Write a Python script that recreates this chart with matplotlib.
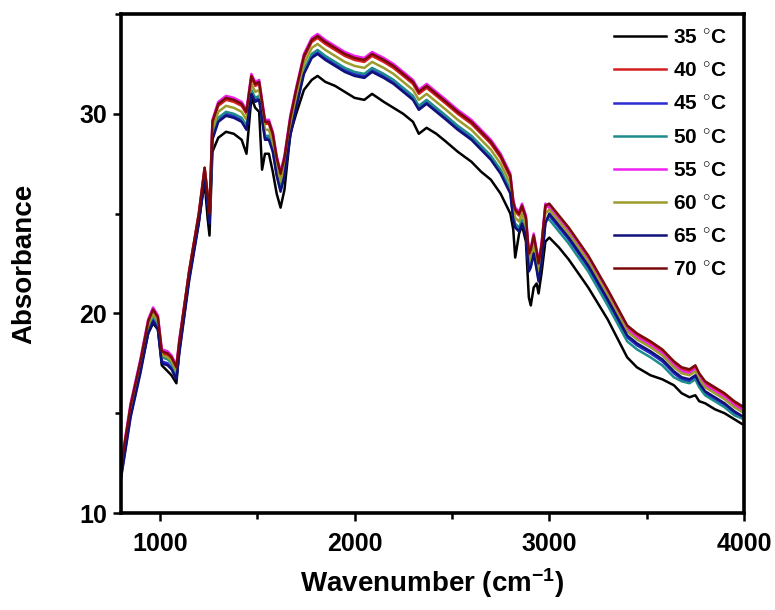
import matplotlib
matplotlib.use("Agg")
import matplotlib.pyplot as plt
from matplotlib.ticker import MultipleLocator

plt.rcParams['font.family'] = ['Liberation Sans', 'DejaVu Sans']
plt.rcParams['font.weight'] = 'bold'
plt.rcParams['mathtext.fontset'] = 'custom'
plt.rcParams['mathtext.rm'] = 'Liberation Sans:bold'
plt.rcParams['mathtext.it'] = 'Liberation Sans:bold'
plt.rcParams['mathtext.bf'] = 'Liberation Sans:bold'

# wavenumber grid (cm-1)
wavenumber = [800, 850, 900, 940, 965, 990, 1010, 1040, 1060, 1085, 1100,
              1150, 1200, 1230, 1245, 1255,
              1270, 1300, 1340, 1380, 1420, 1445, 1470, 1490, 1510, 1525,
              1540, 1560, 1580, 1600, 1620, 1640, 1670, 1700, 1740, 1780,
              1810, 1850, 1900, 1950, 2000, 2050, 2090, 2150, 2200, 2250,
              2300, 2330, 2370, 2420, 2470, 2530, 2600, 2650, 2700, 2750,
              2800, 2815, 2825, 2845, 2860, 2880, 2895, 2905, 2920, 2935,
              2945, 2960, 2980,
              3000, 3050, 3100, 3200, 3300, 3400, 3450, 3520, 3580, 3640,
              3680, 3720, 3750, 3770, 3800, 3850, 3900, 3950, 4000]

abs_35 = [12.2, 15.2, 17.2, 19.0, 19.5, 19.2, 17.4, 17.1, 16.9, 16.5, 18.2,
          21.8, 24.6, 26.6, 24.8, 23.9,
          28.1, 28.8, 29.1, 29.0, 28.7, 28.0, 30.8, 30.3, 30.1, 27.2,
          28.0, 28.0, 27.1, 26.0, 25.3, 26.2, 29.0, 30.0, 31.2, 31.7,
          31.9, 31.6, 31.4, 31.1, 30.8, 30.7, 31.0, 30.6, 30.3, 30.0,
          29.6, 29.0, 29.3, 29.0, 28.6, 28.1, 27.6, 27.1, 26.7, 26.0,
          25.0, 24.2, 22.8, 24.0, 24.4, 23.6, 20.8, 20.4, 21.3, 21.5,
          21.0, 22.0, 23.6,
          23.8, 23.3, 22.7, 21.3, 19.7, 17.8, 17.3, 16.9, 16.7, 16.4,
          16.0, 15.8, 15.9, 15.6, 15.5, 15.2, 15.0, 14.7, 14.4]

abs_40 = [12.2, 15.3, 17.5, 19.5, 20.1, 19.7, 18.0, 17.9, 17.7, 17.2, 18.5,
          22.1, 25.0, 27.3, 26.0, 25.0,
          29.5, 30.4, 30.7, 30.6, 30.4, 30.0, 31.8, 31.4, 31.5, 30.5,
          29.5, 29.5, 28.9, 27.7, 26.9, 27.7, 29.7, 31.1, 32.8, 33.6,
          33.8, 33.5, 33.2, 32.9, 32.7, 32.6, 32.9, 32.6, 32.3, 31.9,
          31.5, 31.0, 31.3, 30.9, 30.5, 30.0, 29.5, 29.0, 28.5, 27.8,
          26.8, 25.5, 25.1, 24.9, 25.3, 24.7, 22.9, 23.1, 23.8, 23.0,
          22.4, 23.3, 25.3,
          25.4, 24.8, 24.2, 22.8, 21.1, 19.3, 18.9, 18.5, 18.1, 17.5,
          17.2, 17.1, 17.3, 16.9, 16.5, 16.2, 15.9, 15.5, 15.2]

abs_45 = [11.8, 14.9, 17.1, 19.1, 19.7, 19.3, 17.6, 17.5, 17.3, 16.8, 18.1,
          21.7, 24.6, 26.9, 25.6, 24.6,
          28.8, 29.7, 30.0, 29.9, 29.7, 29.3, 31.1, 30.7, 30.8, 29.8,
          28.8, 28.8, 28.2, 27.0, 26.2, 27.0, 29.0, 30.4, 32.1, 32.9,
          33.1, 32.8, 32.5, 32.2, 32.0, 31.9, 32.2, 31.9, 31.6, 31.2,
          30.8, 30.3, 30.6, 30.2, 29.8, 29.3, 28.8, 28.3, 27.8, 27.1,
          26.1, 24.8, 24.4, 24.2, 24.6, 24.0, 22.2, 22.4, 23.1, 22.3,
          21.7, 22.6, 24.6,
          24.9, 24.3, 23.7, 22.3, 20.6, 18.8, 18.4, 18.0, 17.6, 17.0,
          16.7, 16.6, 16.8, 16.4, 16.0, 15.7, 15.4, 15.0, 14.7]

abs_50 = [12.0, 15.1, 17.3, 19.3, 19.9, 19.5, 17.8, 17.7, 17.5, 17.0, 18.3,
          21.8, 24.7, 27.0, 25.7, 24.7,
          28.9, 29.8, 30.1, 30.0, 29.8, 29.4, 31.2, 30.8, 30.9, 29.9,
          28.9, 28.9, 28.3, 27.1, 26.3, 27.1, 29.1, 30.5, 32.2, 33.0,
          33.2, 32.9, 32.6, 32.3, 32.1, 32.0, 32.3, 32.0, 31.7, 31.3,
          30.9, 30.4, 30.7, 30.3, 29.9, 29.4, 28.9, 28.4, 27.9, 27.2,
          26.2, 24.9, 24.5, 24.3, 24.7, 24.1, 22.3, 22.5, 23.2, 22.4,
          21.8, 22.7, 24.7,
          24.7, 24.1, 23.5, 22.1, 20.4, 18.6, 18.2, 17.8, 17.4, 16.8,
          16.6, 16.5, 16.7, 16.3, 15.9, 15.6, 15.3, 14.9, 14.7]

abs_55 = [12.4, 15.5, 17.7, 19.7, 20.3, 19.9, 18.2, 18.1, 17.9, 17.4, 18.7,
          22.0, 24.9, 27.2, 25.9, 24.9,
          29.7, 30.6, 30.9, 30.8, 30.6, 30.2, 32.0, 31.6, 31.7, 30.7,
          29.7, 29.7, 29.1, 27.9, 27.1, 27.9, 29.9, 31.3, 33.0, 33.8,
          34.0, 33.7, 33.4, 33.1, 32.9, 32.8, 33.1, 32.8, 32.5, 32.1,
          31.7, 31.2, 31.5, 31.1, 30.7, 30.2, 29.7, 29.2, 28.7, 28.0,
          27.0, 25.7, 25.3, 25.1, 25.5, 24.9, 23.1, 23.3, 24.0, 23.2,
          22.6, 23.5, 25.5,
          25.3, 24.7, 24.1, 22.7, 21.0, 19.2, 18.8, 18.4, 18.0, 17.4,
          17.1, 17.0, 17.2, 16.8, 16.4, 16.1, 15.8, 15.4, 15.1]

abs_60 = [12.1, 15.2, 17.4, 19.4, 20.0, 19.6, 17.9, 17.8, 17.6, 17.1, 18.4,
          21.9, 24.8, 27.1, 25.8, 24.8,
          29.2, 30.1, 30.4, 30.3, 30.1, 29.7, 31.5, 31.1, 31.2, 30.2,
          29.2, 29.2, 28.6, 27.4, 26.6, 27.4, 29.4, 30.8, 32.5, 33.3,
          33.5, 33.2, 32.9, 32.6, 32.4, 32.3, 32.6, 32.3, 32.0, 31.6,
          31.2, 30.7, 31.0, 30.6, 30.2, 29.7, 29.2, 28.7, 28.2, 27.5,
          26.5, 25.2, 24.8, 24.6, 25.0, 24.4, 22.6, 22.8, 23.5, 22.7,
          22.1, 23.0, 25.0,
          25.2, 24.6, 24.0, 22.6, 20.9, 19.1, 18.7, 18.3, 17.9, 17.3,
          17.0, 16.9, 17.1, 16.7, 16.3, 16.0, 15.7, 15.3, 15.0]

abs_65 = [11.7, 14.8, 17.0, 19.0, 19.6, 19.2, 17.5, 17.4, 17.2, 16.7, 18.0,
          21.6, 24.5, 26.8, 25.5, 24.5,
          28.7, 29.6, 29.9, 29.8, 29.6, 29.2, 31.0, 30.6, 30.7, 29.7,
          28.7, 28.7, 28.1, 26.9, 26.1, 26.9, 28.9, 30.3, 32.0, 32.8,
          33.0, 32.7, 32.4, 32.1, 31.9, 31.8, 32.1, 31.8, 31.5, 31.1,
          30.7, 30.2, 30.5, 30.1, 29.7, 29.2, 28.7, 28.2, 27.7, 27.0,
          26.0, 24.7, 24.3, 24.1, 24.5, 23.9, 22.1, 22.3, 23.0, 22.2,
          21.6, 22.5, 24.5,
          25.0, 24.4, 23.8, 22.4, 20.7, 18.9, 18.5, 18.1, 17.7, 17.1,
          16.8, 16.7, 16.9, 16.5, 16.1, 15.8, 15.5, 15.1, 14.8]

abs_70 = [12.3, 15.4, 17.6, 19.6, 20.2, 19.8, 18.1, 18.0, 17.8, 17.3, 18.6,
          22.1, 25.0, 27.3, 26.0, 25.0,
          29.6, 30.5, 30.8, 30.7, 30.5, 30.1, 31.9, 31.5, 31.6, 30.6,
          29.6, 29.6, 29.0, 27.8, 27.0, 27.8, 29.8, 31.2, 32.9, 33.7,
          33.9, 33.6, 33.3, 33.0, 32.8, 32.7, 33.0, 32.7, 32.4, 32.0,
          31.6, 31.1, 31.4, 31.0, 30.6, 30.1, 29.6, 29.1, 28.6, 27.9,
          26.9, 25.6, 25.2, 25.0, 25.4, 24.8, 23.0, 23.2, 23.9, 23.1,
          22.5, 23.4, 25.4,
          25.5, 24.9, 24.3, 22.9, 21.2, 19.4, 19.0, 18.6, 18.2, 17.6,
          17.3, 17.2, 17.4, 17.0, 16.6, 16.3, 16.0, 15.6, 15.3]

labels = ['35 $^{\\circ}$C', '40 $^{\\circ}$C', '45 $^{\\circ}$C', '50 $^{\\circ}$C',
          '55 $^{\\circ}$C', '60 $^{\\circ}$C', '65 $^{\\circ}$C', '70 $^{\\circ}$C']
series = [abs_35, abs_40, abs_45, abs_50, abs_55, abs_60, abs_65, abs_70]
colors = ['#000000', '#d42020', '#2a2ad0', '#1f8c8c', '#f020f0', '#9c9c2c', '#10107a', '#7a0a0a']

fig = plt.figure(figsize=(7.75, 6.1), dpi=100)
ax = fig.add_axes([0.156, 0.159, 0.804, 0.818])

for ys, c, lab in zip(series, colors, labels):
    ax.plot(wavenumber, ys, color=c, lw=1.8, label=lab)

ax.set_xlim(800, 4000)
ax.set_ylim(10, 35)
ax.xaxis.set_major_locator(MultipleLocator(1000))
ax.xaxis.set_minor_locator(MultipleLocator(500))
ax.yaxis.set_major_locator(MultipleLocator(10))
ax.yaxis.set_minor_locator(MultipleLocator(5))
ax.tick_params(which='both', direction='out', width=1.8, top=False, right=False)
ax.tick_params(which='major', length=6, labelsize=18)
ax.tick_params(axis='x', which='major', pad=8)
ax.tick_params(axis='y', which='major', pad=4)
ax.tick_params(which='minor', length=4)
for s in ax.spines.values():
    s.set_linewidth(2.6)

ax.set_xlabel('Wavenumber (cm$^{-1}$)', fontsize=20, fontweight='bold', labelpad=7)
ax.set_ylabel('Absorbance', fontsize=20, fontweight='bold', labelpad=30)

ax.legend(loc='upper right', frameon=False, fontsize=15, handlelength=2.5,
          handletextpad=0.3, labelspacing=0.68, borderaxespad=0.3,
          bbox_to_anchor=(0.995, 1.0))

fig.savefig('out.png', dpi=100)
